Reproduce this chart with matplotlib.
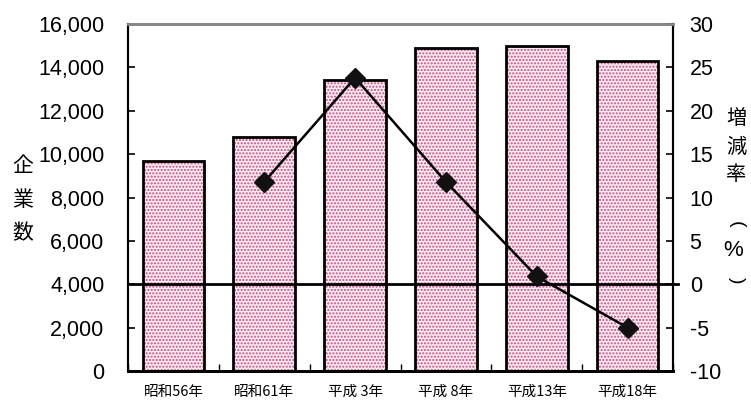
import matplotlib
matplotlib.use("Agg")
import matplotlib.pyplot as plt
import numpy as np

categories = ["昭和56年", "昭和61年", "平成 3年", "平成 8年", "平成13年", "平成18年"]
companies = [9700, 10800, 13400, 14900, 15000, 14300]
growth = [np.nan, 11.8, 23.8, 11.8, 0.9, -5.0]
left_ticks = [0, 2000, 4000, 6000, 8000, 10000, 12000, 14000, 16000]
right_ticks = [-10, -5, 0, 5, 10, 15, 20, 25, 30]

cjk = ["Noto Sans CJK JP", "DejaVu Sans"]
num_font = ["Liberation Sans", "DejaVu Sans"]

W, H = 751, 412
fig = plt.figure(figsize=(W / 100, H / 100), dpi=100)
ax = fig.add_axes([128 / W, 1 - 371 / H, (673 - 128) / W, (371 - 24) / H])

x = np.arange(len(categories))
bw = 0.68
ax.bar(x, companies, width=bw, color="#faeaf0", hatch=".....", edgecolor="#c04f86",
       linewidth=0, zorder=2)
ax.bar(x, companies, width=bw, fill=False, edgecolor="black", linewidth=2, zorder=3)

ax.set_xlim(-0.5, len(categories) - 0.5)
ax.set_ylim(0, 16000)
ax.set_yticks(left_ticks)
ax.set_yticklabels([f"{v:,}" for v in left_ticks], fontfamily=num_font, fontsize=15.5)
ax.tick_params(axis="y", direction="in", length=5, width=1.2, pad=17)
ax.set_xticks(np.arange(len(categories) + 1) - 0.5, minor=True)
ax.set_xticks(x)
ax.set_xticklabels(categories, fontfamily=cjk, fontsize=10.5)
ax.tick_params(axis="x", which="major", length=0, pad=10)
ax.tick_params(axis="x", which="minor", direction="in", length=5, width=1)

ax2 = ax.twinx()
ax2.set_ylim(-10, 30)
ax2.set_yticks(right_ticks)
ax2.set_yticklabels([str(v) for v in right_ticks], fontfamily=num_font, fontsize=15.5)
ax2.tick_params(axis="y", direction="in", length=5, width=1.2, pad=12)
ax2.axhline(0, color="black", linewidth=2, zorder=4, clip_on=False, xmin=0, xmax=1.01)
ax2.plot(x, growth, color="black", linewidth=1.8, marker="D", markersize=10,
         markerfacecolor="#111111", markeredgecolor="#111111", zorder=5)

for a in (ax, ax2):
    a.spines["top"].set_color("#888888")
    a.spines["top"].set_linewidth(2)
    a.spines["left"].set_linewidth(1.5)
    a.spines["right"].set_linewidth(1.5)
    a.spines["bottom"].set_linewidth(2)

def ftext(px, py, s, **kw):
    kw.setdefault("fontfamily", cjk)
    fig.text(px / W, 1 - py / H, s, ha="center", va="center", **kw)

for ch, py in zip("企業数", [166, 200, 233]):
    ftext(23, py, ch, fontsize=15)
for ch, py in zip(["増", "減", "率"], [118, 147, 175]):
    ftext(736, py, ch, fontsize=14.5)
ftext(736, 224, "(", fontsize=14, rotation=-90, fontfamily=num_font)
ftext(733, 251, "%", fontsize=16, fontfamily=num_font)
ftext(736, 280, ")", fontsize=14, rotation=-90, fontfamily=num_font)

fig.savefig("out.png", dpi=100)
